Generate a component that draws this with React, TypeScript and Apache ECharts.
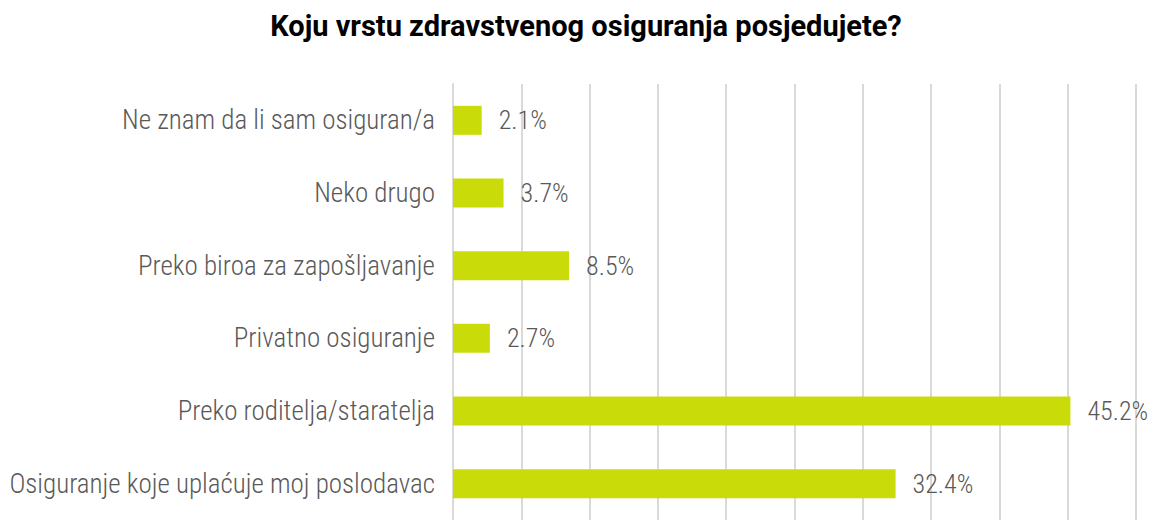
import React, { useEffect, useRef } from "react";
import * as echarts from "echarts";

const categories = [
  "Ne znam da li sam osiguran/a",
  "Neko drugo",
  "Preko biroa za zapošljavanje",
  "Privatno osiguranje",
  "Preko roditelja/staratelja",
  "Osiguranje koje uplaćuje moj poslodavac",
];
const values = [2.1, 3.7, 8.5, 2.7, 45.2, 32.4];
const titleText = "Koju vrstu zdravstvenog osiguranja posjedujete?";

const FONT = "'Roboto Condensed', 'Liberation Sans Narrow', 'DejaVu Sans Condensed', Roboto, sans-serif";
const TITLE_FONT = "Roboto, 'Noto Sans', sans-serif";

export default function App() {
  const ref = useRef<HTMLDivElement>(null);
  useEffect(() => {
    if (!ref.current) return;
    const chart = echarts.init(ref.current, undefined, { renderer: "svg" });
    chart.setOption({
      animation: false,
      backgroundColor: "#ffffff",
      graphic: [
        {
          type: "text",
          x: 586,
          y: 26,
          style: {
            text: titleText,
            textAlign: "center",
            textVerticalAlign: "middle",
            fontSize: 29,
            fontWeight: "bold",
            fontFamily: TITLE_FONT,
            fill: "#000000",
          },
        },
      ],
      grid: { left: 453, right: 17, top: 84, bottom: -5, containLabel: false },
      xAxis: {
        type: "value",
        min: 0,
        max: 50,
        interval: 5,
        axisLabel: { show: false },
        axisTick: { show: false },
        axisLine: { show: false },
        splitLine: { show: true, lineStyle: { color: "#D9D9D9", width: 2 } },
      },
      yAxis: {
        type: "category",
        inverse: true,
        data: categories,
        axisTick: { show: false },
        axisLine: { show: true, lineStyle: { color: "#D9D9D9", width: 2 } },
        axisLabel: {
          color: "#595959",
          fontSize: 27,
          fontWeight: 300,
          fontFamily: FONT,
          margin: 18,
        },
      },
      series: [
        {
          type: "bar",
          data: values,
          barWidth: 29,
          itemStyle: { color: "#C9DC0A" },
          label: {
            show: true,
            position: "right",
            distance: 17,
            formatter: (p: any) => p.value.toFixed(1) + "%",
            color: "#595959",
            fontSize: 26,
            fontWeight: 300,
            fontFamily: FONT,
          },
        },
      ],
    });
    return () => chart.dispose();
  }, []);
  return (
    <div
      ref={ref}
      style={{ position: "fixed", left: 0, top: 0, width: 1153, height: 520 }}
    />
  );
}
